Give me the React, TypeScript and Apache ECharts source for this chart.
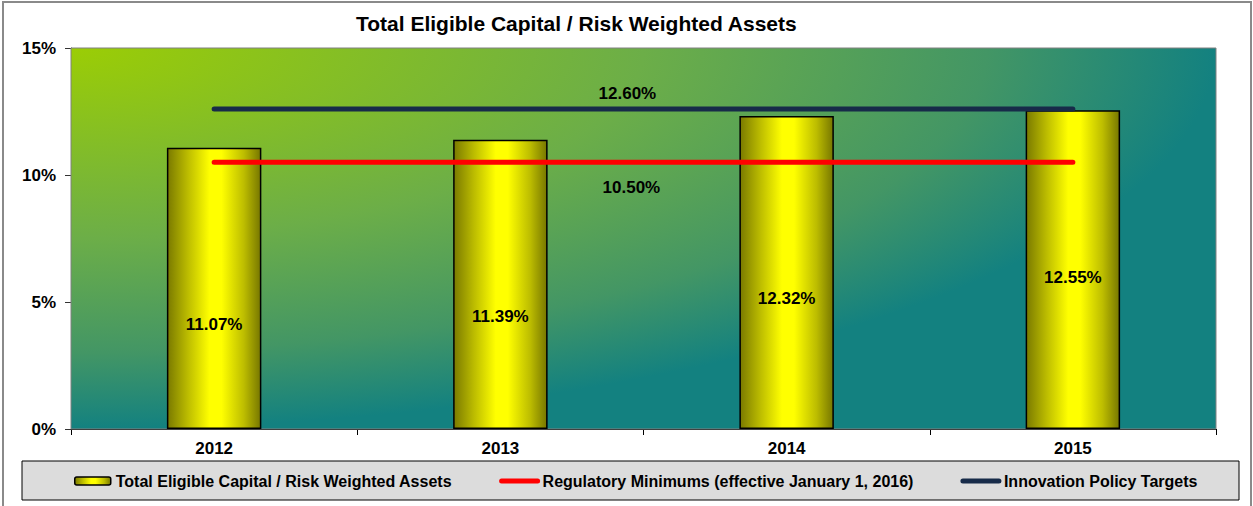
import React, { useEffect, useRef } from "react";
import * as echarts from "echarts";

const TITLE = "Total Eligible Capital / Risk Weighted Assets";
const categories = ["2012", "2013", "2014", "2015"];
const barName = "Total Eligible Capital / Risk Weighted Assets";
const barValues = [11.07, 11.39, 12.32, 12.55];
const regName = "Regulatory Minimums (effective January 1, 2016)";
const regValues = [10.5, 10.5, 10.5, 10.5];
const targetName = "Innovation Policy Targets";
const targetValues = [12.6, 12.6, 12.6, 12.6];
const yTicks = { min: 0, max: 15, interval: 5 };

// style-only: vertical nudges of bar labels, and which point carries the line label
const barLabelShift = [36, 32, 26, 8];
const lineLabelIndex = 1;

const FONT = "'Liberation Sans', Arial, sans-serif";

const fmt = (v: any) => Number(v).toFixed(2) + "%";

export default function App() {
  const ref = useRef<HTMLDivElement>(null);
  useEffect(() => {
    if (!ref.current) return;
    const chart = echarts.init(ref.current, null, { renderer: "svg" });
    const barGradient = {
      type: "linear",
      x: 0,
      y: 0,
      x2: 1,
      y2: 0,
      colorStops: [
        { offset: 0, color: "#7A7A00" },
        { offset: 0.22, color: "#BDBD00" },
        { offset: 0.45, color: "#FFFF00" },
        { offset: 0.58, color: "#FFFF00" },
        { offset: 0.82, color: "#BDBD00" },
        { offset: 1, color: "#777700" },
      ],
    };
    const labelText = { fontSize: 17, fontWeight: "bold", color: "#000", fontFamily: FONT };
    const option: any = {
      animation: false,
      textStyle: { fontFamily: FONT },
      title: {
        text: TITLE,
        left: 356,
        top: 13,
        padding: 0,
        textStyle: { fontSize: 21, fontWeight: "bold", color: "#000", fontFamily: FONT },
      },
      graphic: [
        {
          type: "rect",
          z: 0,
          silent: true,
          shape: { x: 3, y: 2, width: 1248, height: 520 },
          style: { fill: "#fff", stroke: "#8A8A8A", lineWidth: 2 },
        },
        {
          type: "rect",
          z: 1,
          silent: true,
          shape: { x: 22, y: 461, width: 1217, height: 39 },
          style: { fill: "#DCDCDC", stroke: "#000", lineWidth: 1 },
        },
      ],
      grid: {
        left: 71,
        top: 48,
        right: 37,
        bottom: 77,
        show: true,
        z: 2,
        borderColor: "#808080",
        borderWidth: 1,
        backgroundColor: {
          type: "radial",
          x: 0,
          y: 0,
          r: 1,
          colorStops: [
            { offset: 0, color: "#9BCD05" },
            { offset: 0.5, color: "#6CAE48" },
            { offset: 0.8, color: "#439665" },
            { offset: 1, color: "#138180" },
          ],
        },
      },
      legend: {
        left: 74,
        top: 473,
        padding: 0,
        itemGap: 47,
        itemWidth: 36,
        itemHeight: 8,
        textStyle: { fontSize: 16, fontWeight: "bold", color: "#000", fontFamily: FONT },
        data: [
          { name: barName, itemStyle: { borderColor: "#000", borderWidth: 1.5 } },
          { name: regName, itemStyle: { opacity: 0 }, lineStyle: { width: 5, cap: "round" } },
          { name: targetName, itemStyle: { opacity: 0 }, lineStyle: { width: 5, cap: "round" } },
        ],
      },
      xAxis: {
        type: "category",
        data: categories,
        boundaryGap: true,
        axisLine: { lineStyle: { color: "#000", width: 1 } },
        axisTick: { show: true, length: 6, lineStyle: { color: "#000" } },
        axisLabel: { fontSize: 17, fontWeight: "bold", color: "#000", margin: 11, fontFamily: FONT },
        splitLine: { show: false },
      },
      yAxis: {
        type: "value",
        min: yTicks.min,
        max: yTicks.max,
        interval: yTicks.interval,
        axisLine: { show: true, lineStyle: { color: "#333", width: 1 } },
        axisTick: { show: true, length: 6, lineStyle: { color: "#333" } },
        axisLabel: {
          fontSize: 17,
          fontWeight: "bold",
          color: "#000",
          margin: 15,
          fontFamily: FONT,
          formatter: "{value}%",
        },
        splitLine: { show: true, lineStyle: { color: "#000", width: 1 } },
      },
      series: [
        {
          name: barName,
          type: "bar",
          barWidth: "33%",
          z: 3,
          itemStyle: { color: barGradient, borderColor: "#000", borderWidth: 1.5 },
          label: {
            show: true,
            position: "inside",
            ...labelText,
            formatter: (p: any) => fmt(p.value),
          },
          data: barValues.map((v, i) => ({ value: v, label: { offset: [0, barLabelShift[i]] } })),
        },
        {
          name: regName,
          type: "line",
          z: 4,
          symbol: "none",
          showSymbol: false,
          color: "#FF0000",
          lineStyle: { color: "#FF0000", width: 5, cap: "round" },
          data: regValues,
          markPoint: {
            symbol: "circle",
            symbolSize: 0,
            silent: true,
            label: {
              show: true,
              position: "bottom",
              offset: [131, 12],
              ...labelText,
              formatter: (p: any) => fmt(p.value),
            },
            data: [
              {
                coord: [lineLabelIndex, regValues[lineLabelIndex]],
                value: regValues[lineLabelIndex],
              },
            ],
          },
        },
        {
          name: targetName,
          type: "line",
          z: 4,
          symbol: "none",
          showSymbol: false,
          color: "#172B49",
          lineStyle: { color: "#172B49", width: 5, cap: "round" },
          data: targetValues,
          markPoint: {
            symbol: "circle",
            symbolSize: 0,
            silent: true,
            label: {
              show: true,
              position: "top",
              offset: [127, -2],
              ...labelText,
              formatter: (p: any) => fmt(p.value),
            },
            data: [
              {
                coord: [lineLabelIndex, targetValues[lineLabelIndex]],
                value: targetValues[lineLabelIndex],
              },
            ],
          },
        },
      ],
    };
    chart.setOption(option);
    return () => chart.dispose();
  }, []);
  return (
    <div
      ref={ref}
      style={{ position: "fixed", left: 0, top: 0, width: 1253, height: 506, background: "#fff" }}
    />
  );
}
